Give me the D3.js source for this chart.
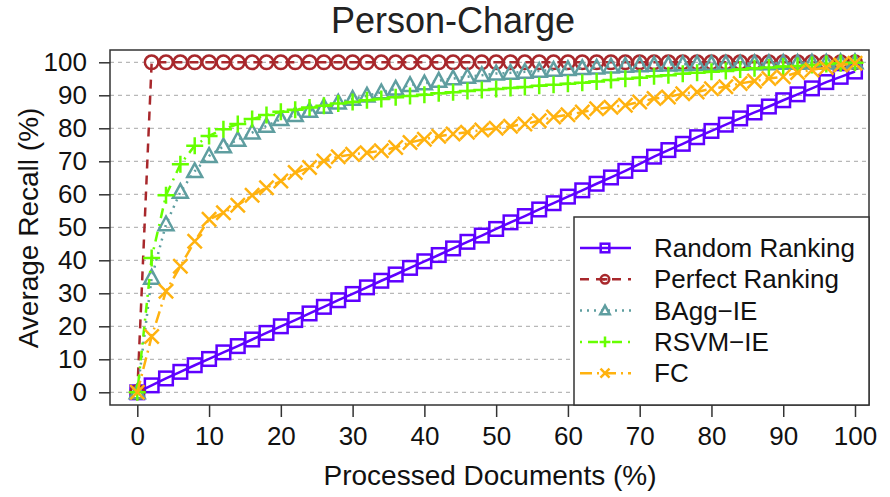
<!DOCTYPE html>
<html>
<head>
<meta charset="utf-8">
<script src="https://cdn.jsdelivr.net/npm/d3@7"></script>
<style>
  body { margin: 0; background: #fff; }
  svg { display: block; font-family: "Liberation Sans", Arial, sans-serif; }
</style>
</head>
<body>
<svg id="chart" width="890" height="497"></svg>
<script>
// processed documents (%) at each marker
const processed = [0, 2, 4, 6, 8, 10, 12, 14, 16, 18, 20, 22, 24, 26, 28, 30, 32, 34, 36, 38, 40,
    42, 44, 46, 48, 50, 52, 54, 56, 58, 60, 62, 64, 66, 68, 70, 72, 74, 76, 78, 80,
    82, 84, 86, 88, 90, 92, 94, 96, 98, 100];

const randomRanking = [0, 2.1, 4.2, 6.2, 8.2, 10.1, 12.1, 14, 16, 18, 20, 21.9, 23.9, 25.9, 27.9, 29.8, 31.8, 33.8, 35.7, 37.7, 39.7,
    41.6, 43.6, 45.6, 47.5, 49.5, 51.5, 53.4, 55.4, 57.3, 59.3, 61.2, 63.2, 65.1, 67.1, 69.2, 71.4, 73.4, 75.3, 77.3, 79.2,
    81.1, 83, 84.8, 86.6, 88.5, 90.3, 92.1, 94, 95.6, 97.2];

const perfectRanking = [0, 100, 100, 100, 100, 100, 100, 100, 100, 100, 100, 100, 100, 100, 100, 100, 100, 100, 100, 100, 100,
    100, 100, 100, 100, 100, 100, 100, 100, 100, 100, 100, 100, 100, 100, 100, 100, 100, 100, 100, 100,
    100, 100, 100, 100, 100, 100, 100, 100, 100, 100];

const baggIE = [0, 34.7, 50.9, 60.7, 67, 71.6, 74.5, 76.5, 78.7, 80.7, 82.8, 84, 85.3, 86.5, 87.8, 88.9, 89.9, 90.9, 92, 93.1, 93.6,
    94.4, 95.1, 95.6, 96.1, 96.6, 96.8, 97.1, 97.4, 97.7, 97.9, 98.2, 98.4, 98.7, 98.9, 99.1, 99.2, 99.3, 99.4, 99.5, 99.5,
    99.6, 99.6, 99.7, 99.7, 99.8, 99.8, 99.9, 99.9, 100, 100];

const rsvmIE = [0, 40.7, 59.7, 69.1, 74.7, 77.7, 79.7, 81.3, 82.8, 84, 85, 85.6, 86.3, 86.8, 87.5, 88, 88.5, 88.9, 89.4, 89.8, 90.2,
    90.6, 90.9, 91.3, 91.6, 91.9, 92.2, 92.5, 92.9, 93.2, 93.5, 93.8, 94.2, 94.6, 95, 95.3, 95.8, 96.1, 96.5, 96.8, 97.1,
    97.4, 97.8, 98.2, 98.4, 98.7, 98.9, 99.2, 99.5, 99.7, 99.9];

const fc = [0, 16.9, 30.6, 38.2, 45.8, 52.4, 54.4, 56.7, 59.7, 62, 64, 66.6, 68.1, 70.1, 71.4, 72.1, 72.6, 73.2, 74.2, 75.7, 76.7,
    77.6, 78.3, 78.8, 79.5, 80, 80.6, 81.3, 82.3, 83.4, 84.1, 84.9, 85.9, 86.4, 87, 88, 89, 89.5, 90.5, 91, 92,
    92.6, 93.6, 94.3, 95.1, 95.6, 96.9, 97.7, 98.4, 99.2, 99.7];

const xTicks = [0, 10, 20, 30, 40, 50, 60, 70, 80, 90, 100];
const yTicks = [0, 10, 20, 30, 40, 50, 60, 70, 80, 90, 100];

const seriesNames = ["Random Ranking", "Perfect Ranking", "BAgg\u2212IE", "RSVM\u2212IE", "FC"];

const series = [
    { name: seriesNames[0], values: randomRanking, color: "#5f00ff", dash: null, shape: "square" },
    { name: seriesNames[1], values: perfectRanking, color: "#a8282c", dash: "9,7", shape: "circle" },
    { name: seriesNames[2], values: baggIE, color: "#5f9ea0", dash: "2,5", shape: "triangle" },
    { name: seriesNames[3], values: rsvmIE, color: "#66ff00", dash: "2,6,10,6", shape: "plus" },
    { name: seriesNames[4], values: fc, color: "#ffb20f", dash: "12,5,2,5", shape: "cross" }
];

const svg = d3.select("#chart");
const box = { left: 110, right: 869, top: 50, bottom: 405 };

const x = d3.scaleLinear().domain([0, 100]).range([137.3, 855]);
const y = d3.scaleLinear().domain([0, 100]).range([392.3, 62.3]);

// gridlines
svg.append("g")
    .selectAll("line")
    .data(yTicks)
    .join("line")
    .attr("x1", box.left)
    .attr("x2", box.right)
    .attr("y1", d => y(d))
    .attr("y2", d => y(d))
    .attr("stroke", "#b8b8b8")
    .attr("stroke-width", 1.2)
    .attr("stroke-dasharray", "4,4");

// axes
const xAxis = svg.append("g")
    .attr("transform", `translate(0,${box.bottom})`)
    .call(d3.axisBottom(x).tickValues(xTicks).tickSize(12).tickPadding(10));
const yAxis = svg.append("g")
    .attr("transform", `translate(${box.left},0)`)
    .call(d3.axisLeft(y).tickValues(yTicks).tickSize(11).tickPadding(12));

[xAxis, yAxis].forEach(a => {
    a.select(".domain").remove();
    a.selectAll("line").attr("stroke", "#333").attr("stroke-width", 1.5);
    a.selectAll("text")
        .attr("fill", "#111")
        .style("font-size", "26px")
        .style("font-family", '"Liberation Sans", Arial, sans-serif');
});

function marker(sel, shape, color, s) {
    // s = half size
    if (shape === "square") {
        sel.append("rect").attr("x", -s).attr("y", -s).attr("width", 2 * s).attr("height", 2 * s)
            .attr("fill", "none").attr("stroke", color);
    } else if (shape === "circle") {
        sel.append("circle").attr("r", s).attr("fill", "none").attr("stroke", color);
    } else if (shape === "triangle") {
        const h = s * 1.15;
        sel.append("path").attr("d", `M0,${-h}L${s * 1.1},${h * 0.75}L${-s * 1.1},${h * 0.75}Z`)
            .attr("fill", "none").attr("stroke", color);
    } else if (shape === "plus") {
        const p = s * 1.25;
        sel.append("path").attr("d", `M${-p},0H${p}M0,${-p}V${p}`).attr("stroke", color);
    } else if (shape === "cross") {
        const c = s * 1.05;
        sel.append("path").attr("d", `M${-c},${-c}L${c},${c}M${-c},${c}L${c},${-c}`).attr("stroke", color);
    }
}

const line = d3.line().x((d, i) => x(processed[i])).y(d => y(d));

series.forEach(sr => {
    const g = svg.append("g");
    g.append("path")
        .datum(sr.values)
        .attr("d", line)
        .attr("fill", "none")
        .attr("stroke", sr.color)
        .attr("stroke-width", 2.5)
        .attr("stroke-dasharray", sr.dash);
    g.selectAll("g.pt")
        .data(sr.values)
        .join("g")
        .attr("class", "pt")
        .attr("transform", (d, i) => `translate(${x(processed[i])},${y(d)})`)
        .attr("stroke-width", 2.5)
        .each(function() { marker(d3.select(this), sr.shape, sr.color, 6.8); });
});

// plot box
svg.append("rect")
    .attr("x", box.left).attr("y", box.top)
    .attr("width", box.right - box.left).attr("height", box.bottom - box.top)
    .attr("fill", "none").attr("stroke", "#333").attr("stroke-width", 1.5);

// legend
const legend = svg.append("g");
legend.append("rect")
    .attr("x", 574).attr("y", 217).attr("width", 295).attr("height", 188)
    .attr("fill", "#fff").attr("stroke", "#333").attr("stroke-width", 1.5);
series.forEach((sr, i) => {
    const ly = 248 + i * 31.3;
    legend.append("line")
        .attr("x1", 580).attr("x2", 631).attr("y1", ly).attr("y2", ly)
        .attr("stroke", sr.color).attr("stroke-width", 2.5)
        .attr("stroke-dasharray", sr.dash);
    const m = legend.append("g")
        .attr("transform", `translate(605,${ly})`)
        .attr("stroke-width", 2.5);
    marker(m, sr.shape, sr.color, 4.3);
    if (sr.shape === "circle") {
        m.append("path").attr("d", "M-2.5,0H2.5").attr("stroke", sr.color);
    }
    legend.append("text")
        .attr("x", 654).attr("y", ly).attr("dy", "0.35em")
        .attr("fill", "#111")
        .style("font-size", "26px")
        .text(sr.name);
});

// titles
svg.append("text")
    .attr("x", 453).attr("y", 33)
    .attr("text-anchor", "middle")
    .attr("fill", "#222")
    .style("font-size", "36px")
    .text("Person-Charge");

svg.append("text")
    .attr("x", 490).attr("y", 485)
    .attr("text-anchor", "middle")
    .attr("fill", "#111")
    .style("font-size", "28px")
    .text("Processed Documents (%)");

svg.append("text")
    .attr("transform", "translate(37.5,228) rotate(-90)")
    .attr("text-anchor", "middle")
    .attr("fill", "#111")
    .style("font-size", "28px")
    .text("Average Recall (%)");
</script>
</body>
</html>
